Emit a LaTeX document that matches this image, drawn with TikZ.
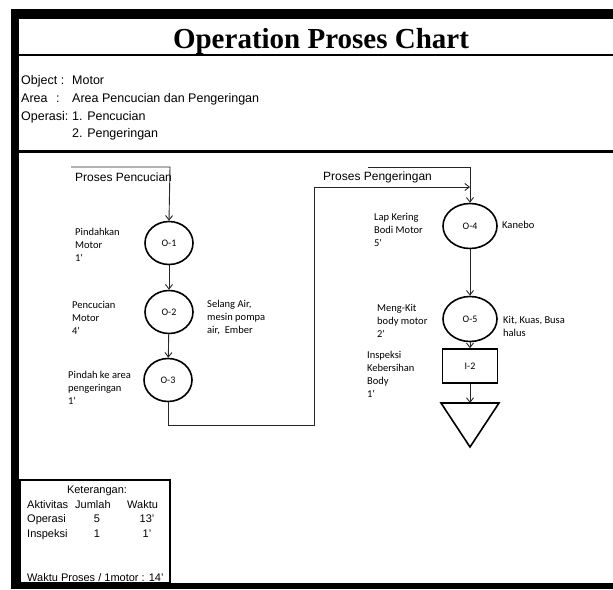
\documentclass[tikz,border=0pt]{standalone}
\usepackage{fontspec}
\setmainfont{Liberation Sans}
\newfontfamily\titlefont{Liberation Serif}
\newfontfamily\calfont{Carlito}
\usetikzlibrary{shapes.geometric,arrows.meta}
\begin{document}
\begin{tikzpicture}[x=1pt,y=-1pt,
  opcircle/.style={ellipse, draw, line width=1.6pt, minimum width=48pt,
    minimum height=43pt, inner sep=0pt, font=\calfont\fontsize{10}{12}\selectfont},
  opbig/.style={opcircle, minimum width=54pt, minimum height=45pt},
  inspbox/.style={rectangle, draw, line width=1.6pt, minimum width=55pt,
    minimum height=34pt, inner sep=0pt, font=\calfont\fontsize{10}{12}\selectfont},
  lbl/.style={anchor=west, align=left, inner sep=0pt,
    font=\calfont\fontsize{10.5}{13}\selectfont},
  info/.style={anchor=base west, inner sep=0pt, font=\fontsize{12.5}{15}\selectfont},
  proc/.style={anchor=base west, inner sep=0pt, font=\fontsize{12}{14}\selectfont},
  ket/.style={anchor=base west, inner sep=0pt, font=\fontsize{11}{13}\selectfont},
  ketc/.style={ket, anchor=base},
  conn/.style={line width=0.9pt, draw=black!85},
  arr/.style={conn, -{Straight Barb[length=4.5pt,width=7pt]}},
  frame/.style={fill=black, draw=none}
]
\useasboundingbox (0,0) rectangle (613,589);
\fill[white] (0,0) rectangle (613,589);

% outer frame and dividers
\fill[frame] (11,9) rectangle (613,19);
\fill[frame] (11,9) rectangle (19,589);
\fill[frame] (11,583) rectangle (613,589);
\fill[frame] (19,54) rectangle (613,56);
\fill[frame] (19,150) rectangle (613,153);

% title
\node[anchor=base, inner sep=0pt, font=\titlefont\bfseries\fontsize{29}{32}\selectfont]
  (title) at (321,48) {Operation Proses Chart};

% header information
\node[info] (objk) at (21,84) {Object :};
\node[info] (objv) at (72,84) {Motor};
\node[info] (areak) at (21,102) {Area};
\node[info] (areac) at (56,102) {:};
\node[info] (areav) at (72,102) {Area Pencucian dan Pengeringan};
\node[info] (opk) at (21,120) {Operasi:};
\node[info] (op1) at (72,120) {1. Pencucian};
\node[info] (op2) at (72,137) {2. Pengeringan};

% washing process
\coordinate (s1a) at (71,167);
\coordinate (s1b) at (170,167);
\node[proc] (p1) at (75,181) {Proses Pencucian};
\node[opcircle] (o1) at (169,243) {O-1};
\node[opcircle] (o2) at (169,312) {O-2};
\node[opcircle] (o3) at (168,380) {O-3};

\node[lbl] (l1) at (75,245) {Pindahkan\\Motor\\1'};
\node[lbl] (l2) at (72,318) {Pencucian\\Motor\\4'};
\node[lbl] (r2) at (207,318) {Selang Air,\\mesin pompa\\air,\ \ Ember};
\node[lbl] (l3) at (68,388) {Pindah ke area\\pengeringan\\1'};

\draw[arr] (s1a) -- (s1b) -- (o1.north);
\draw[arr] (o1) -- (o2);
\draw[arr] (o2) -- (o3);

% drying process
\coordinate (s2a) at (368,167);
\coordinate (s2b) at (470,167);
\coordinate (j1) at (168,425);
\coordinate (j2) at (314,425);
\coordinate (j3) at (314,187);
\coordinate (j4) at (470,187);
\node[proc] (p2) at (323,180) {Proses Pengeringan};
\node[opbig] (o4) at (470,226) {O-4};
\node[opbig] (o5) at (470,319) {O-5};
\node[inspbox] (i2) at (470,366) {I-2};
\coordinate (ta) at (441,403);
\coordinate (tb) at (499,403);
\coordinate (tc) at (470,447);
\coordinate (ttop) at (470,403);

\node[lbl] (l4) at (374,230) {Lap Kering\\Bodi Motor\\5'};
\node[lbl] (r4) at (502,225) {Kanebo};
\node[lbl] (l5) at (377,321) {Meng-Kit\\body motor\\2'};
\node[lbl] (r5) at (503,326) {Kit, Kuas, Busa\\halus};
\node[lbl] (l6) at (367,374) {Inspeksi\\Kebersihan\\Body\\1'};

\draw[arr] (o3.south) -- (j1) -- (j2) -- (j3) -- (j4);
\draw[arr] (s2a) -- (s2b) -- (o4.north);
\draw[arr] (o4) -- (o5);
\draw[arr] (o5) -- (i2);
\draw[arr] (i2) -- (ttop);
\draw[line width=1.6pt, line join=miter] (ta) -- (tb) -- (tc) -- cycle;

% summary box
\draw[line width=2pt] (20,480) rectangle (170,583);
\node[ketc] (kt) at (97,493) {Keterangan:};
\node[ket] (ka) at (27,508) {Aktivitas};
\node[ket] (kj) at (75,508) {Jumlah};
\node[ket] (kw) at (127,508) {Waktu};
\node[ket] (ko) at (27,522) {Operasi};
\node[ketc] (kon) at (97,522) {5};
\node[ketc] (kow) at (147,522) {13'};
\node[ket] (ki) at (27,537) {Inspeksi};
\node[ketc] (kin) at (97,537) {1};
\node[ketc] (kiw) at (147,537) {1'};
\node[ket] (kp) at (27,581) {Waktu Proses / 1motor : 14'};
\end{tikzpicture}
\end{document}
